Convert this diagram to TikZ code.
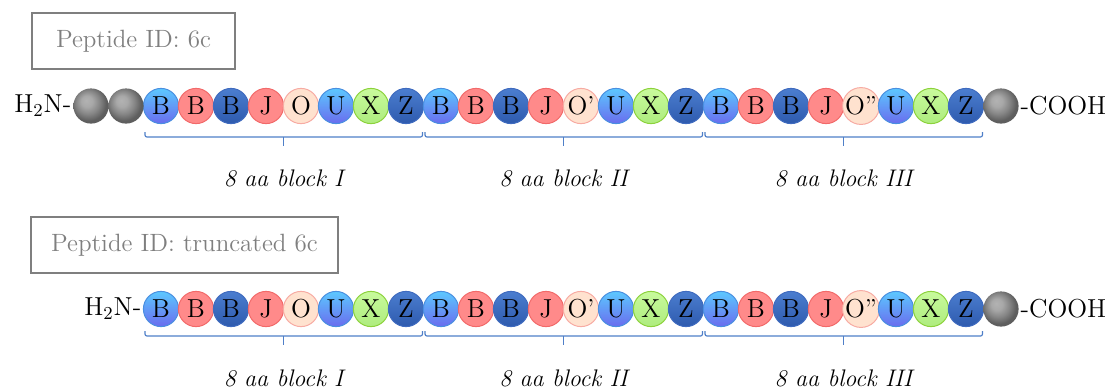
\documentclass[tikz,border=0pt]{standalone}
\usetikzlibrary{calc}

\definecolor{lblueT}{HTML}{5CC8FF}
\definecolor{lblueB}{HTML}{6A6CEE}
\definecolor{lblueD}{HTML}{4A8FE0}
\definecolor{redF}{HTML}{FF8A8A}
\definecolor{redD}{HTML}{F26A6A}
\definecolor{dblueT}{HTML}{4B7ECF}
\definecolor{dblueB}{HTML}{2E5AAE}
\definecolor{dblueD}{HTML}{3F6BBF}
\definecolor{peachF}{HTML}{FFE2CF}
\definecolor{peachD}{HTML}{F7ABA3}
\definecolor{greenT}{HTML}{C8FA9C}
\definecolor{greenB}{HTML}{AEEC7E}
\definecolor{greenD}{HTML}{8CD23C}
\definecolor{bracketc}{HTML}{4F7FC8}
\definecolor{boxgray}{HTML}{7F7F7F}

% soft grey sphere for the spacer residues
\pgfdeclareradialshading{softball}{\pgfpoint{-7bp}{8bp}}{%
  color(0bp)=(black!30); color(8bp)=(black!34); color(17bp)=(black!48);
  color(25bp)=(black!63); color(50bp)=(black!66)}

\tikzset{
  bead/.style={circle, inner sep=0pt, minimum size=17.6pt, line width=0.5pt,
    font=\fontsize{13}{15}\selectfont},
  lb/.style={bead, draw=lblueD, top color=lblueT, bottom color=lblueB},
  rd/.style={bead, draw=redD, fill=redF},
  db/.style={bead, draw=dblueD, top color=dblueT, bottom color=dblueB},
  pc/.style={bead, draw=peachD, fill=peachF},
  gr/.style={bead, draw=greenD, top color=greenT, bottom color=greenB},
  gy/.style={bead, shading=softball},
  endgrp/.style={inner sep=0.6pt, font=\fontsize{13}{15}\selectfont},
  brk/.style={draw=bracketc, line width=0.6pt, rounded corners=1pt},
  blocklabel/.style={inner sep=0pt, font=\fontsize{12}{14}\selectfont\itshape},
  titlebox/.style={draw=boxgray, line width=1pt, text=boxgray, inner sep=0pt,
    font=\fontsize{12.5}{14}\selectfont},
}

\begin{document}
\begin{tikzpicture}[x=0.5pt,y=-0.5pt]
\useasboundingbox (0,0) rectangle (1115,388);

% peptide name boxes
\node[titlebox, minimum width=101.5pt, minimum height=28pt] (id1) at (133.5,41) {Peptide ID: 6c};
\node[titlebox, minimum width=153.5pt, minimum height=28pt] (id2) at (184.5,245) {Peptide ID: truncated 6c};

% the three 8-residue blocks of both sequences
\foreach \row/\y/\bo/\lo in {t/106/31/72, u/309/27/69} {
  \foreach \blk/\oo/\num in {1/O/I, 2/O'/II, 3/O''/III} {
    \foreach \k/\sty/\txt in {1/lb/B, 2/rd/B, 3/db/B, 4/rd/J, 5/pc/\oo, 6/lb/U, 7/gr/X, 8/db/Z} {
      \node[\sty] (\row\blk\k) at ({161+35*((\blk-1)*8+\k-1)}, \y) {\txt};
    }
    % bracket under the block
    \coordinate (L\row\blk) at ($(\row\blk1.center)+(-16,\bo)$);
    \coordinate (R\row\blk) at ($(\row\blk8.center)+(16.5,\bo)$);
    \coordinate (C\row\blk) at ($(\row\blk4.center)!0.5!(\row\blk5.center)+(0,\bo)$);
    \draw[brk] ($(L\row\blk)+(0,-5)$) -- (L\row\blk) -- (R\row\blk) -- ($(R\row\blk)+(0,-5)$);
    \draw[brk] (C\row\blk) -- ($(C\row\blk)+(0,9)$);
    \node[blocklabel] (lab\row\blk) at ($(\row\blk4.center)!0.5!(\row\blk5.center)+(0,\lo)$) {8 aa block \num};
  }
}

% extra residues and termini, full peptide
\node[gy] (tg1) at (91,106) {};
\node[gy] (tg2) at (126,106) {};
\node[gy] (tg3) at (1001,106) {};
\node[endgrp, anchor=east] (tN) at (tg1.west) {H\textsubscript{2}N-};
\node[endgrp, anchor=west] (tC) at (tg3.east) {-COOH};

% truncated peptide
\node[gy] (ug3) at (1001,309) {};
\node[endgrp, anchor=east] (uN) at (u11.west) {H\textsubscript{2}N-};
\node[endgrp, anchor=west] (uC) at (ug3.east) {-COOH};
\end{tikzpicture}
\end{document}
